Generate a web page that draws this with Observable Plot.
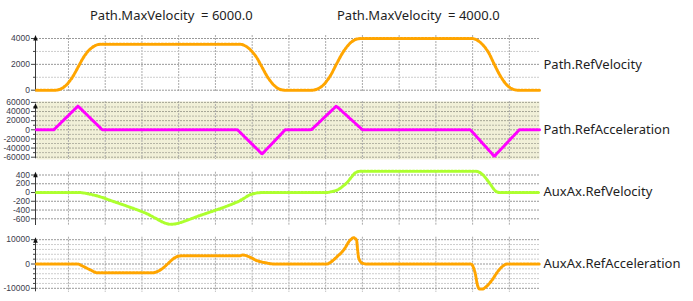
<!DOCTYPE html>
<html><head><meta charset="utf-8">
<script src="https://cdn.jsdelivr.net/npm/d3@7"></script>
<script src="https://cdn.jsdelivr.net/npm/@observablehq/plot@0.6"></script>
<style>
body{margin:0;background:#fff;}
#chart{position:relative;width:693px;height:301px;overflow:hidden;font-family:"Noto Sans",sans-serif;background:#fff;}
#chart svg{position:absolute;left:0;}
.ttl{position:absolute;top:6.5px;font-size:13px;line-height:16px;color:#1e1e1e;white-space:pre;}
</style></head><body><div id="chart"></div>
<script>
// ---- data ----
const xDomain = [0.13, 13.82];
const xGrid = [1, 2, 3, 4, 5, 6, 7, 8, 9, 10, 11, 12, 13];
const titles = ["Path.MaxVelocity  = 6000.0", "Path.MaxVelocity  = 4000.0"];
const seriesNames = ["Path.RefVelocity", "Path.RefAcceleration", "AuxAx.RefVelocity", "AuxAx.RefAcceleration"];

const pathVelT = [0.13, 0.65, 0.81, 0.95, 1.11, 1.26, 1.41, 1.57, 1.71, 1.87, 5.65, 5.82, 5.95, 6.12, 6.27, 6.42, 6.58, 6.71, 6.88, 7.64, 7.80, 7.97, 8.13, 8.29, 8.46, 8.62, 8.78, 8.95, 11.97, 12.12, 12.28, 12.44, 12.59, 12.75, 12.90, 13.06, 13.22, 13.82];
const pathVel  = [0, 0, 126, 422, 1015, 1775, 2535, 3128, 3422, 3550, 3550, 3422, 3128, 2535, 1775, 1015, 422, 126, 0, 0, 125, 500, 1125, 2000, 2875, 3500, 3875, 4000, 4000, 3875, 3500, 2875, 2000, 1125, 500, 125, 0, 0];

const pathAccT = [0.13, 0.60, 1.26, 1.92, 5.60, 6.27, 6.90, 7.61, 8.29, 9.00, 11.94, 12.59, 13.27, 13.82];
const pathAcc  = [0, 0, 52000, 0, 0, -53000, 0, 0, 52000, 0, 0, -58000, 0, 0];

const auxVelT = [0.13, 1.27, 1.54, 1.87, 2.14, 2.41, 2.77, 3.15, 3.42, 3.59, 3.78, 3.97, 4.24, 4.59, 4.95, 5.33, 5.68, 5.95, 6.18, 6.36, 8.04, 8.13, 8.31, 8.48, 8.59, 8.70, 8.78, 8.89, 9.00, 12.08, 12.19, 12.30, 12.40, 12.48, 12.56, 12.63, 12.73, 13.82];
const auxVel  = [0, 0, -30, -100, -180, -258, -365, -490, -610, -685, -725, -705, -630, -522, -420, -305, -180, -50, -5, 0, 0, 15, 55, 150, 235, 350, 430, 480, 487, 487, 460, 386, 280, 194, 95, 30, 0, 0];

const auxAccT = [0.13, 1.24, 1.42, 1.60, 1.78, 3.28, 3.50, 3.69, 3.87, 4.09, 5.68, 5.73, 5.95, 6.09, 6.22, 6.36, 6.58, 8.04, 8.13, 8.31, 8.49, 8.67, 8.76, 8.84, 8.87, 8.90, 9.00, 9.13, 11.96, 12.03, 12.08, 12.12, 12.19, 12.26, 12.39, 12.53, 12.67, 12.80, 12.94, 13.82];
const auxAcc  = [0, 0, -1110, -2470, -3600, -3600, -2470, -120, 2350, 3400, 3400, 3700, 2760, 1650, 950, 540, 0, 0, 700, 3000, 5760, 9880, 10800, 9880, 5760, 2350, 290, 0, 0, -1770, -4530, -7940, -10290, -10290, -9050, -6580, -3420, -1110, 0, 0];

const velTicks = [0, 2000, 4000];
const velMinor = [1000, 3000];
const accTicks = [-60000, -40000, -20000, 0, 20000, 40000, 60000];
const accMinor = [-50000, -30000, -10000, 10000, 30000, 50000];
const auxVelTicks = [-600, -400, -200, 0, 200, 400];
const auxAccTicks = [-10000, 0, 10000];
const auxAccMinor = [-8000, -6000, -4000, -2000, 2000, 4000, 6000, 8000];

const colors = ["#FFA500", "#FF00FF", "#ADFF2F", "#FFA500"];

// ---- drawing ----
function axisArrow(extTop, extBottom) {
  return (index, scales, values, dims) => {
    const x = dims.marginLeft - 0.5;
    const y0 = dims.marginTop - extTop;
    const y1 = dims.height - dims.marginBottom + extBottom;
    const g = d3.create("svg:g");
    g.append("line").attr("x1", x).attr("x2", x).attr("y1", y0 + 3).attr("y2", y1)
      .attr("stroke", "#3a3a3a").attr("stroke-width", 1);
    g.append("path").attr("d", `M${x},${y0}L${x - 2.3},${y0 + 5.5}L${x + 2.3},${y0 + 5.5}Z`).attr("fill", "#111");
    return g.node();
  };
}

function buildPanel(cfg) {
  const data = cfg.t.map((t, i) => ({t, v: cfg.v[i]}));
  const lineOpts = {x: "t", y: "v", stroke: cfg.color, curve: cfg.curve};
  const marks = [];
  if (cfg.bg) marks.push(Plot.frame({fill: cfg.bg, stroke: "none", insetTop: cfg.bgInset[0], insetBottom: cfg.bgInset[1]}));
  marks.push(Plot.gridX(xGrid, {stroke: "#ababab", strokeOpacity: 1, strokeDasharray: "2,1", insetTop: -cfg.gext[0], insetBottom: -cfg.gext[1]}));
  if (cfg.gridMinor) marks.push(Plot.gridY(cfg.gridMinor, {stroke: cfg.minorColor || "#cdcdcd", strokeOpacity: 1, strokeDasharray: "2,1"}));
  marks.push(Plot.gridY(cfg.grid, {stroke: cfg.gridColor || "#999", strokeOpacity: 1, strokeDasharray: "2,1"}));
  if (cfg.minor) marks.push(Plot.axisY(cfg.minor, {tickSize: 3, tickFormat: () => "", label: null, stroke: "#444"}));
  marks.push(Plot.axisY(cfg.major, {tickSize: 5, tickPadding: 1.5, label: null, fontSize: 8.5, stroke: "#444", fill: "#3c3c4c", tickFormat: d => String(d)}));
  marks.push(axisArrow(cfg.ext[0], cfg.ext[1]));
  marks.push(Plot.line(data, {...lineOpts, strokeWidth: 1.1}));
  marks.push(Plot.line(data, {...lineOpts, strokeWidth: 3, strokeDasharray: "2,1.5"}));
  marks.push(Plot.text([cfg.name], {text: d => d, frameAnchor: "right", textAnchor: "start", lineAnchor: "middle", dx: 4, dy: cfg.labelDy || 0, fontSize: 13, fontFamily: "'Noto Sans', sans-serif", fill: "#1e1e1e"}));
  const svg = Plot.plot({
    width: 693, height: cfg.height,
    marginLeft: 36, marginRight: 154, marginTop: cfg.mTop, marginBottom: cfg.mBottom,
    x: {domain: xDomain, axis: null},
    y: {domain: cfg.domain, label: null},
    style: {fontFamily: "'Liberation Sans', Arial, sans-serif", fontSize: "8.5px", color: "#3c3c4c", background: "transparent", overflow: "visible"},
    marks
  });
  svg.style.top = cfg.top + "px";
  svg.style.position = "absolute";
  return svg;
}

const chart = document.getElementById("chart");

const t1 = document.createElement("div"); t1.className = "ttl"; t1.style.left = "90px"; t1.textContent = titles[0]; chart.appendChild(t1);
const t2 = document.createElement("div"); t2.className = "ttl"; t2.style.left = "337px"; t2.textContent = titles[1]; chart.appendChild(t2);

chart.appendChild(buildPanel({
  name: seriesNames[0], t: pathVelT, v: pathVel, color: colors[0], curve: "monotone-x",
  top: 28, height: 66, mTop: 10, mBottom: 4.3, domain: [0, 4000],
  major: velTicks, minor: velMinor, grid: velTicks, gridMinor: velMinor,
  ext: [3, 1.6], gext: [3, 2]
}));
chart.appendChild(buildPanel({
  name: seriesNames[1], t: pathAccT, v: pathAcc, color: colors[1], curve: "linear",
  top: 96, height: 66, mTop: 5.9, mBottom: 5.3, domain: [-60000, 60000],
  major: accTicks, minor: accMinor, grid: accTicks, gridMinor: accMinor,
  gridColor: "#a4a494", minorColor: "#b4b4a4",
  bg: "#F1F0D8", bgInset: [-0.9, -2.3],
  ext: [-1, 1.6], gext: [0.9, 2.3]
}));
chart.appendChild(buildPanel({
  name: seriesNames[2], t: auxVelT, v: auxVel, color: colors[2], curve: "monotone-x",
  top: 165, height: 63, mTop: 9.5, mBottom: 9.7, domain: [-600, 400],
  major: auxVelTicks, grid: auxVelTicks, labelDy: -4.7,
  ext: [2.8, 6.7], gext: [2.8, 6.7]
}));
chart.appendChild(buildPanel({
  name: seriesNames[3], t: auxAccT, v: auxAcc, color: colors[3], curve: "monotone-x",
  top: 230, height: 66, mTop: 9.2, mBottom: 8.2, domain: [-10000, 10000],
  major: auxAccTicks, minor: auxAccMinor, grid: auxAccTicks, gridMinor: auxAccMinor,
  ext: [1.9, 3.5], gext: [2.5, 3.9]
}));
</script>
</body></html>
